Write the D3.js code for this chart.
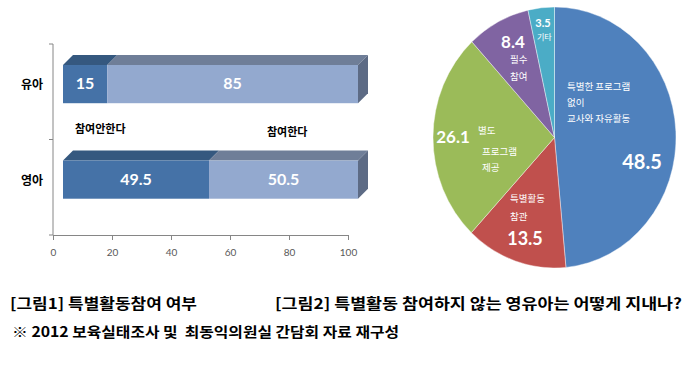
<!DOCTYPE html>
<html>
<head>
<meta charset="utf-8">
<script src="https://cdn.jsdelivr.net/npm/d3@7"></script>
<style>
  html, body { margin: 0; padding: 0; background: #fff; }
  svg { display: block; }
</style>
</head>
<body>
<div id="chart"></div>
<script>
const width = 683;
const height = 365;

// data
const groups = ["유아", "영아"];
const notJoin = [15, 49.5];   // 참여안한다
const join = [85, 50.5];      // 참여한다
const seriesNames = ["참여안한다", "참여한다"];
const xTicks = [0, 20, 40, 60, 80, 100];

const pieNames = ["특별한 프로그램 없이 교사와 자유활동", "특별활동 참관", "별도 프로그램 제공", "필수 참여", "기타"];
const pieValues = [48.5, 13.5, 26.1, 8.4, 3.5];

const caption1 = "[그림1] 특별활동참여 여부";
const caption2 = "[그림2] 특별활동 참여하지 않는 영유아는 어떻게 지내나?";
const note = "※ 2012 보육실태조사 및  최동익의원실 간담회 자료 재구성";

// style
const frontColors = ["#4572a7", "#93a9cf"];
const topColors = ["#35587f", "#6f7e98"];
const sideColor = "#5d6b85";
const pieColors = ["#4f81bd", "#c0504d", "#9bbb59", "#8064a2", "#4bacc6"];
const depth = 10;

const svg = d3.select("#chart").append("svg")
  .attr("width", width)
  .attr("height", height)
  .attr("viewBox", [0, 0, width, height]);

// ---------- bar chart ----------
const x = d3.scaleLinear().domain([0, 100]).range([53, 348]);
const y = d3.scaleBand().domain(groups).range([44, 235]);
const bw = y.bandwidth();
const barTop = g => y(g) + bw * 0.22;
const barH = bw * 0.4;

const rows = groups.map((g, i) => ({ group: g, a: notJoin[i], b: join[i] }));
const stacked = d3.stack().keys(["a", "b"])(rows);

const bars = svg.append("g");

// top faces
stacked.forEach((layer, si) => {
  bars.append("g").selectAll("path")
    .data(layer)
    .join("path")
    .attr("fill", topColors[si])
    .attr("d", d => {
      const x0 = x(d[0]) + depth, x1 = x(d[1]) + depth, yt = barTop(d.data.group);
      return `M${x0},${yt}L${x0 + depth},${yt - depth}L${x1 + depth},${yt - depth}L${x1},${yt}Z`;
    });
});

// front faces
stacked.forEach((layer, si) => {
  bars.append("g").selectAll("rect")
    .data(layer)
    .join("rect")
    .attr("fill", frontColors[si])
    .attr("x", d => x(d[0]) + depth)
    .attr("y", d => barTop(d.data.group))
    .attr("width", d => x(d[1]) - x(d[0]))
    .attr("height", barH);
});

// right side
bars.append("g").selectAll("path")
  .data(stacked[1])
  .join("path")
  .attr("fill", sideColor)
  .attr("d", d => {
    const x1 = x(d[1]) + depth, yt = barTop(d.data.group);
    return `M${x1},${yt}L${x1 + depth},${yt - depth}L${x1 + depth},${yt - depth + barH}L${x1},${yt + barH}Z`;
  });

// value labels
stacked.forEach((layer) => {
  bars.append("g").selectAll("text")
    .data(layer)
    .join("text")
    .attr("x", d => (x(d[0]) + x(d[1])) / 2 + depth)
    .attr("y", d => barTop(d.data.group) + barH / 2 + 1)
    .attr("text-anchor", "middle")
    .attr("dominant-baseline", "middle")
    .attr("fill", "#fff")
    .attr("font-family", "Lato, sans-serif")
    .attr("font-weight", 700)
    .attr("font-size", 16)
    .text(d => d[1] - d[0]);
});

// axes
const axisColor = "#868686";
const xAxis = svg.append("g")
  .attr("transform", `translate(0,${y.range()[1]})`)
  .call(d3.axisBottom(x).tickValues(xTicks).tickSize(5).tickSizeOuter(5));
xAxis.selectAll("path, line").attr("stroke", axisColor);
xAxis.selectAll("text")
  .attr("font-family", "Lato, sans-serif")
  .attr("font-size", 10)
  .attr("fill", "#595959")
  .attr("dy", "1.3em");

const yAxis = svg.append("g");
yAxis.append("line")
  .attr("x1", x(0)).attr("x2", x(0))
  .attr("y1", y.range()[0]).attr("y2", y.range()[1])
  .attr("stroke", axisColor);
yAxis.selectAll(".tick")
  .data([...groups.map(g => y(g)), y.range()[1]])
  .join("line")
  .attr("x1", x(0) - 4).attr("x2", x(0))
  .attr("y1", d => d).attr("y2", d => d)
  .attr("stroke", axisColor);

svg.append("g").selectAll("text")
  .data(groups)
  .join("text")
  .attr("x", 43)
  .attr("y", g => barTop(g) + barH / 2 + 2)
  .attr("text-anchor", "end")
  .attr("dominant-baseline", "middle")
  .attr("font-family", "'Noto Sans CJK KR', sans-serif")
  .attr("font-weight", 700)
  .attr("font-size", 12)
  .text(g => g);

// series annotations
const seriesPos = [[75, 130], [267, 133]];
svg.append("g").selectAll("text")
  .data(seriesNames)
  .join("text")
  .attr("x", (d, i) => seriesPos[i][0])
  .attr("y", (d, i) => seriesPos[i][1])
  .attr("dominant-baseline", "middle")
  .attr("font-family", "'Noto Sans CJK KR', sans-serif")
  .attr("font-weight", 700)
  .attr("font-size", 11)
  .text(d => d);

// ---------- pie chart ----------
const cx = 554.5, cy = 137.5, rx = 121.5, ry = 130.5;
const pie = d3.pie().sort(null).value(d => d);
const arc = d3.arc().innerRadius(0).outerRadius(rx);

svg.append("g")
  .attr("transform", `translate(${cx},${cy}) scale(1,${ry / rx})`)
  .selectAll("path")
  .data(pie(pieValues))
  .join("path")
  .attr("fill", (d, i) => pieColors[i])
  .attr("stroke", "#fff")
  .attr("stroke-width", 0.4)
  .attr("d", arc);

// pie labels (manual placement like the original)
const pieValueLabels = [
  { i: 0, x: 642, y: 164, size: 20 },
  { i: 1, x: 525, y: 240, size: 18 },
  { i: 2, x: 453, y: 139, size: 17 },
  { i: 3, x: 513, y: 44, size: 17 },
  { i: 4, x: 543, y: 24, size: 11 }
];
svg.append("g").selectAll("text")
  .data(pieValueLabels)
  .join("text")
  .attr("x", d => d.x)
  .attr("y", d => d.y)
  .attr("text-anchor", "middle")
  .attr("dominant-baseline", "middle")
  .attr("fill", "#fff")
  .attr("font-family", "Lato, sans-serif")
  .attr("font-weight", 700)
  .attr("font-size", d => d.size)
  .text(d => pieValues[d.i]);

const pieNameLines = [
  { t: "특별한 프로그램", x: 567, y: 87 },
  { t: "없이", x: 567, y: 103 },
  { t: "교사와 자유활동", x: 567, y: 119 },
  { t: "특별활동", x: 510, y: 199 },
  { t: "참관", x: 510, y: 217 },
  { t: "별도", x: 478, y: 131 },
  { t: "프로그램", x: 482, y: 152 },
  { t: "제공", x: 482, y: 168 },
  { t: "필수", x: 510, y: 60 },
  { t: "참여", x: 510, y: 77 },
  { t: "기타", x: 537, y: 38, size: 8 }
];
svg.append("g").selectAll("text")
  .data(pieNameLines)
  .join("text")
  .attr("x", d => d.x)
  .attr("y", d => d.y)
  .attr("dominant-baseline", "middle")
  .attr("fill", "#fff")
  .attr("font-family", "'Noto Sans CJK KR', sans-serif")
  .attr("font-size", d => d.size || 9.5)
  .text(d => d.t);

// ---------- captions ----------
const caps = [
  { t: caption1, x: 10, y: 305, w: 187, size: 15 },
  { t: caption2, x: 275, y: 305, w: 407, size: 15 },
  { t: note, x: 12, y: 333, w: 387, size: 14 }
];
svg.append("g").selectAll("text")
  .data(caps)
  .join("text")
  .attr("x", d => d.x)
  .attr("y", d => d.y)
  .attr("dominant-baseline", "middle")
  .attr("font-family", "'Noto Sans CJK KR', sans-serif")
  .attr("font-weight", 700)
  .attr("font-size", d => d.size)
  .attr("textLength", d => d.w)
  .attr("lengthAdjust", "spacingAndGlyphs")
  .attr("xml:space", "preserve")
  .style("white-space", "pre")
  .text(d => d.t);
</script>
</body>
</html>
